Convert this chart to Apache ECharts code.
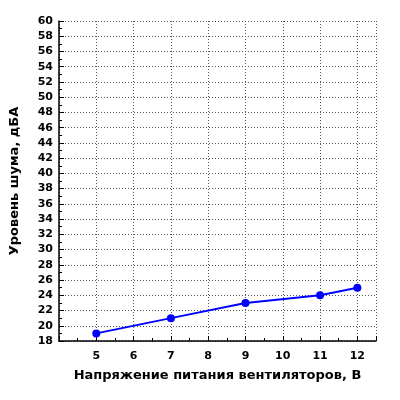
<!DOCTYPE html><html><head><meta charset="utf-8"><script src="https://cdn.jsdelivr.net/npm/echarts@6/dist/echarts.min.js"></script></head><body style="margin:0"><div id="c" style="width:400px;height:400px"></div><script>
const voltages=[5,7,9,11,12];
const noise=[19,21,23,24,25];
const ch=echarts.init(document.getElementById('c'));
const lbl={color:'#000',fontFamily:'DejaVu Sans',fontWeight:'bold',fontSize:11};
const grid={show:true,lineStyle:{color:'#555',type:[1,2],width:1}};
ch.setOption({animation:false,backgroundColor:'#fff',
grid:{left:54,right:24,top:21,bottom:59},
xAxis:{type:'value',min:4,max:12.5,interval:1,name:'Напряжение питания вентиляторов, В',nameLocation:'middle',nameGap:28,nameTextStyle:{...lbl,fontSize:13},
axisLine:{lineStyle:{color:'#000',width:1.5}},axisTick:{inside:true,length:5,lineStyle:{color:'#000'}},minorTick:{show:true,splitNumber:2,length:3,lineStyle:{color:'#000'}},
axisLabel:{...lbl,margin:10,showMaxLabel:false,formatter:v=>v===4?'':v},splitLine:grid},
yAxis:{type:'value',min:18,max:60,interval:2,name:'Уровень шума, дБА',nameLocation:'middle',nameGap:38,nameTextStyle:{...lbl,fontSize:13},
axisLine:{show:true,lineStyle:{color:'#000',width:1.5}},axisTick:{inside:true,length:5,lineStyle:{color:'#000'}},minorTick:{show:true,splitNumber:2,length:3,lineStyle:{color:'#000'}},
axisLabel:{...lbl,margin:6},splitLine:grid},
series:[{type:'line',data:voltages.map((v,i)=>[v,noise[i]]),symbol:'circle',symbolSize:8,lineStyle:{color:'#0000ff',width:2},itemStyle:{color:'#0000ff'}}]});
</script></body></html>
